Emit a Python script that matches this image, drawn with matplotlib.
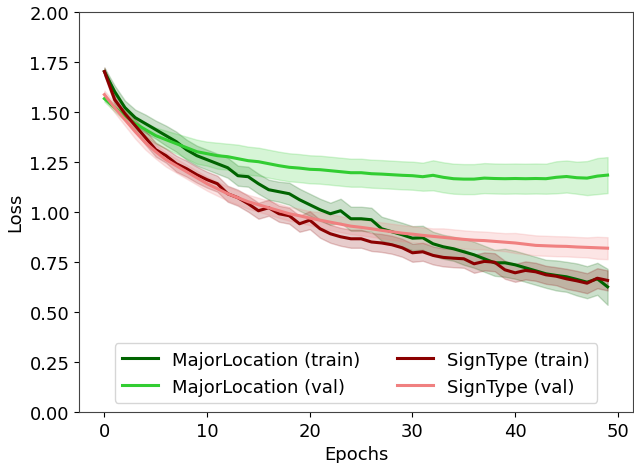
import numpy as np
import matplotlib.pyplot as plt

# --- Loss curves (mean and std per epoch) ---
epochs = np.arange(50)

ml_train = [1.70, 1.60, 1.52, 1.47, 1.44, 1.41, 1.38, 1.35, 1.31, 1.28,
            1.26, 1.24, 1.22, 1.18, 1.175, 1.14, 1.11, 1.10, 1.09, 1.06,
            1.035, 1.01, 0.99, 1.005, 0.965, 0.965, 0.96, 0.915, 0.90, 0.885,
            0.868, 0.87, 0.84, 0.825, 0.815, 0.80, 0.785, 0.765, 0.745, 0.745,
            0.735, 0.72, 0.705, 0.69, 0.682, 0.675, 0.662, 0.648, 0.665, 0.625]
ml_train_std = [0.02, 0.03, 0.035, 0.04, 0.045, 0.045, 0.05, 0.05, 0.05, 0.05,
                0.05, 0.05, 0.05, 0.05, 0.05, 0.05, 0.05, 0.05, 0.055, 0.055,
                0.055, 0.055, 0.055, 0.06, 0.06, 0.06, 0.06, 0.06, 0.06, 0.06,
                0.06, 0.06, 0.06, 0.06, 0.06, 0.065, 0.065, 0.065, 0.065, 0.07,
                0.07, 0.07, 0.07, 0.07, 0.075, 0.075, 0.08, 0.08, 0.08, 0.09]

ml_val = [1.565, 1.52, 1.48, 1.44, 1.41, 1.38, 1.36, 1.34, 1.32, 1.30,
          1.29, 1.28, 1.275, 1.265, 1.255, 1.25, 1.24, 1.23, 1.222, 1.218,
          1.212, 1.21, 1.205, 1.20, 1.195, 1.195, 1.19, 1.188, 1.185, 1.182,
          1.18, 1.175, 1.182, 1.172, 1.165, 1.163, 1.163, 1.168, 1.166, 1.165,
          1.166, 1.165, 1.166, 1.165, 1.172, 1.176, 1.17, 1.168, 1.178, 1.183]
ml_val_std = [0.015, 0.02, 0.025, 0.03, 0.035, 0.04, 0.045, 0.05, 0.055, 0.06,
              0.06, 0.065, 0.065, 0.07, 0.07, 0.07, 0.07, 0.07, 0.07, 0.07,
              0.07, 0.07, 0.07, 0.07, 0.07, 0.07, 0.07, 0.07, 0.07, 0.07,
              0.07, 0.07, 0.075, 0.075, 0.075, 0.075, 0.075, 0.075, 0.075, 0.075,
              0.075, 0.075, 0.075, 0.075, 0.08, 0.08, 0.08, 0.085, 0.09, 0.09]

st_train = [1.70, 1.56, 1.49, 1.43, 1.37, 1.31, 1.28, 1.24, 1.215, 1.185,
            1.16, 1.14, 1.09, 1.07, 1.04, 1.005, 1.02, 0.99, 0.98, 0.94,
            0.958, 0.915, 0.89, 0.875, 0.865, 0.865, 0.849, 0.844, 0.835, 0.82,
            0.795, 0.80, 0.782, 0.772, 0.768, 0.765, 0.74, 0.752, 0.748, 0.71,
            0.695, 0.707, 0.70, 0.685, 0.678, 0.665, 0.655, 0.643, 0.668, 0.657]
st_train_std = [0.02, 0.025, 0.03, 0.03, 0.035, 0.035, 0.035, 0.04, 0.04, 0.04,
                0.04, 0.04, 0.04, 0.04, 0.04, 0.04, 0.04, 0.04, 0.04, 0.04,
                0.045, 0.045, 0.045, 0.045, 0.045, 0.045, 0.045, 0.045, 0.045, 0.045,
                0.045, 0.045, 0.045, 0.045, 0.045, 0.045, 0.045, 0.045, 0.045, 0.045,
                0.045, 0.045, 0.045, 0.045, 0.045, 0.05, 0.05, 0.05, 0.05, 0.05]

st_val = [1.585, 1.52, 1.46, 1.40, 1.345, 1.30, 1.26, 1.23, 1.20, 1.17,
          1.14, 1.115, 1.09, 1.07, 1.05, 1.035, 1.02, 1.005, 0.99, 0.98,
          0.968, 0.958, 0.948, 0.938, 0.928, 0.922, 0.915, 0.907, 0.90, 0.893,
          0.888, 0.882, 0.877, 0.872, 0.867, 0.862, 0.858, 0.856, 0.852, 0.848,
          0.844, 0.838, 0.832, 0.83, 0.828, 0.827, 0.824, 0.822, 0.82, 0.818]
st_val_std = [0.02, 0.025, 0.03, 0.035, 0.035, 0.035, 0.035, 0.035, 0.035, 0.035,
              0.035, 0.035, 0.035, 0.035, 0.035, 0.035, 0.035, 0.035, 0.035, 0.035,
              0.035, 0.04, 0.04, 0.04, 0.04, 0.04, 0.04, 0.04, 0.04, 0.04,
              0.04, 0.04, 0.04, 0.045, 0.045, 0.045, 0.045, 0.045, 0.045, 0.045,
              0.05, 0.05, 0.05, 0.05, 0.05, 0.05, 0.05, 0.05, 0.055, 0.055]

series = [
    ("MajorLocation (train)", ml_train, ml_train_std, "darkgreen"),
    ("MajorLocation (val)", ml_val, ml_val_std, "limegreen"),
    ("SignType (train)", st_train, st_train_std, "darkred"),
    ("SignType (val)", st_val, st_val_std, "lightcoral"),
]

# --- Plot ---
fig, ax = plt.subplots(figsize=(6.34, 4.64), dpi=100)
fig.subplots_adjust(left=0.125, right=0.998, top=0.973, bottom=0.110)

for label, mean, std, color in series:
    mean = np.array(mean)
    std = np.array(std)
    ax.plot(epochs, mean, color=color, linewidth=2.2, label=label)
    ax.fill_between(epochs, mean - std, mean + std, color=color, alpha=0.2)

ax.set_ylim(0, 2)
ax.set_xlabel("Epochs", fontsize=13)
ax.set_ylabel("Loss", fontsize=13)
ax.tick_params(labelsize=13)
for sp in ax.spines.values():
    sp.set_color("#444444")
ax.legend(loc="lower center", ncol=2, fontsize=13)

fig.savefig("out.png", dpi=100)
